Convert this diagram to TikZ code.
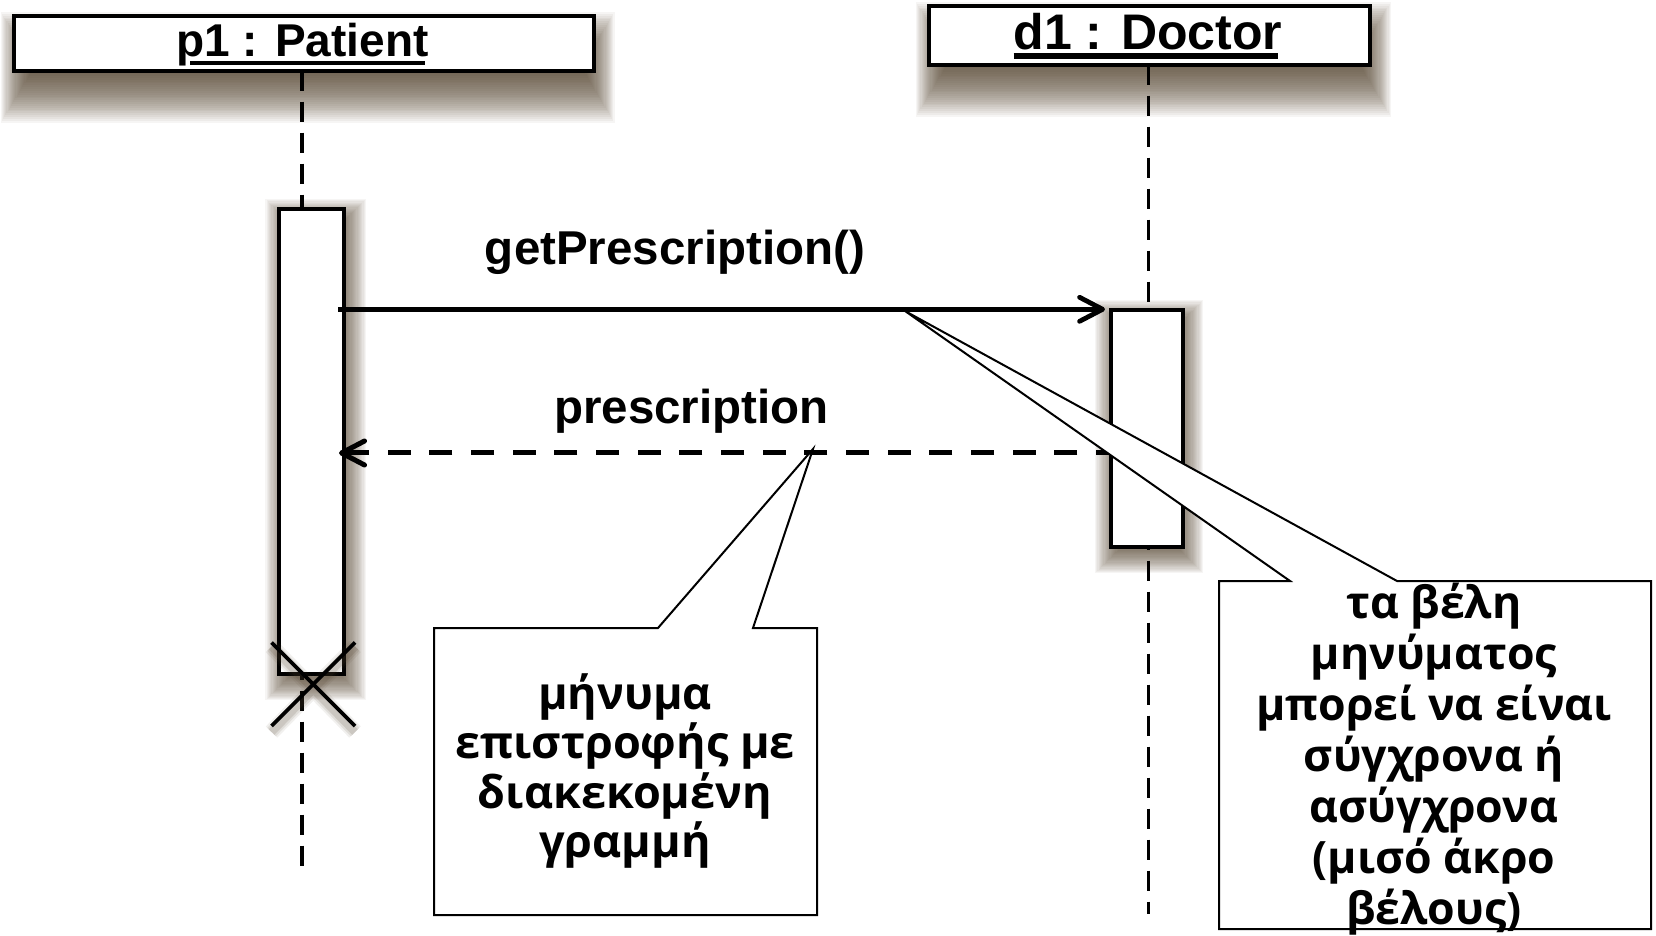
\documentclass[tikz,border=0pt]{standalone}
\usepackage{fontspec}
\newfontfamily\labelfont{Liberation Sans}
\newfontfamily\notefont{Open Sans}
\usetikzlibrary{arrows.meta,calc,shapes.misc}
\definecolor{shadowbrown}{RGB}{82,64,44}
\pgfdeclarelayer{bg}
\pgfsetlayers{bg,main}

% soft drop shadow behind a named node:
% #1 node, #2 x offset, #3 y offset (down), #4 spread, #5 horizontal spread factor
\newcommand\dropshadow[5]{%
  \foreach \i in {0,...,30}{%
    \pgfmathsetmacro\ey{-#4+2*#4*\i/30}%
    \pgfmathsetmacro\ex{#5*\ey}%
    \fill[shadowbrown,fill opacity=0.05]
      ($(#1.north west)+(#2,#3)-(\ex,\ey)$) rectangle ($(#1.south east)+(#2,#3)+(\ex,\ey)$);
  }%
}

\begin{document}
\begin{tikzpicture}[x=0.5pt,y=-0.5pt,
  every node/.style={inner sep=0pt,outer sep=0pt},
  headbox/.style={draw,line width=2pt,fill=white},
  activation/.style={draw,line width=2pt,fill=white},
  lifeline/.style={line width=1.8pt,dash pattern=on 10pt off 5.5pt},
  headlabel/.style={font=\labelfont\bfseries\fontsize{23pt}{27pt}\selectfont,anchor=base},
  msglabel/.style={font=\labelfont\bfseries\fontsize{23.75pt}{28pt}\selectfont,anchor=base},
  call/.style={line width=2.4pt,-{Straight Barb[length=11.5pt,width=12pt,line cap=round,line join=round]}},
  reply/.style={call,line width=2.5pt,dash pattern=on 11.5pt off 9.33pt,dash phase=4pt},
  notebox/.style={draw,line width=1pt,fill=white,line join=miter},
  notetext/.style={font=\notefont\bfseries\fontsize{22.5pt}{24.75pt}\selectfont,align=center,anchor=base},
  destroy/.style={cross out,draw,line width=1.85pt,minimum size=41.75pt}
]
\useasboundingbox (0,0) rectangle (1656,936);

% object heads
\node[headbox,minimum width=290pt,minimum height=27.35pt] (p1) at (303.7,43.35) {};
\node[headlabel] (p1t) at (302.5,56.7) {p1 : Patient};
\draw[line width=2.15pt] ($(p1t.base west)+(14,6.1)$) -- ($(p1t.base east)+(-4,6.1)$);

\node[headbox,minimum width=220.65pt,minimum height=29.35pt] (d1) at (1149.35,35.35) {};
\node[headlabel,font=\labelfont\bfseries\fontsize{25pt}{29pt}\selectfont] (d1t) at (1148,49.5) {d1 : Doctor};
\draw[line width=2.85pt] ($(d1t.base west)+(0,6.5)$) -- ($(d1t.base east)+(-4,6.5)$);

% activation bars
\node[activation,minimum width=32.35pt,minimum height=232.65pt] (pa) at (311.65,441.65) {};
\node[activation,minimum width=36.15pt,minimum height=118.65pt] (da) at (1147.15,428.65) {};

% destruction mark with its shadow
\coordinate (pxc) at (313.3,684.3);
\foreach \w/\o in {8/0.08,6/0.10,4/0.14}{
  \draw[shadowbrown,opacity=\o,line width=\w pt]
    ($(pxc)+(-41.75,-42.75)+(0,5)$) -- ($(pxc)+(41.75,42.75)+(0,5)$)
    ($(pxc)+(41.75,-42.75)+(0,5)$) -- ($(pxc)+(-41.75,42.75)+(0,5)$);
}
\node[destroy] (px) at (pxc) {};

% lifeline ends
\coordinate (pend) at (302,866);
\coordinate (dend) at (1148.3,914);

\begin{pgfonlayer}{bg}
  \fill[white] (0,0) rectangle (1656,936);
  \dropshadow{p1}{4}{24}{28}{0.6}
  \dropshadow{d1}{4}{24}{28}{0.6}
  \dropshadow{pa}{4}{8}{18}{1}
  \dropshadow{da}{2}{8}{18}{1}
  \draw[lifeline] (p1.south -| pend) -- (pend);
  \draw[lifeline] (d1.south -| dend) -- (dend);
\end{pgfonlayer}

% messages
\coordinate (callsrc) at (338,309.3);
\draw[call] (callsrc) -- ([xshift=-3pt]da.west |- callsrc);
\node[msglabel] (m1) at (675,265) {getPrescription()};

\coordinate (replyy) at (0,453);
\draw[reply] (da.west |- replyy) -- ([xshift=-2.5pt]pa.east |- replyy);
\node[msglabel] (m2) at (691.5,423.5) {prescription};

% note on the return message (text anchored at its last baseline)
\node[minimum width=191.5pt,minimum height=143.5pt] (n1) at (625.5,771.5) {};
\coordinate (tip1) at (813,449);
\draw[notebox] (n1.north west) -- ($(n1.north west)+(224,0)$) -- (tip1)
  -- ($(n1.north west)+(319,0)$) -- (n1.north east) -- (n1.south east)
  -- (n1.south west) -- cycle;
\node[notetext] (n1t) at (625,857.5) {μήνυμα\\επιστροφής με\\διακεκομένη\\γραμμή};

% note on the message arrows
\node[minimum width=216pt,minimum height=174pt] (n2) at (1435,755) {};
\coordinate (tip2) at (905,311);
\draw[notebox] (n2.north west) -- ($(n2.north west)+(71,0)$) -- (tip2)
  -- ($(n2.north west)+(178,0)$) -- (n2.north east) -- (n2.south east)
  -- (n2.south west) -- cycle;
\node[notetext,font=\notefont\bfseries\fontsize{22.3pt}{25.5pt}\selectfont] (n2t) at (1434,924)
  {τα βέλη\\μηνύματος\\μπορεί να είναι\\σύγχρονα ή\\ασύγχρονα\\(μισό άκρο\\βέλους)};
\end{tikzpicture}
\end{document}
